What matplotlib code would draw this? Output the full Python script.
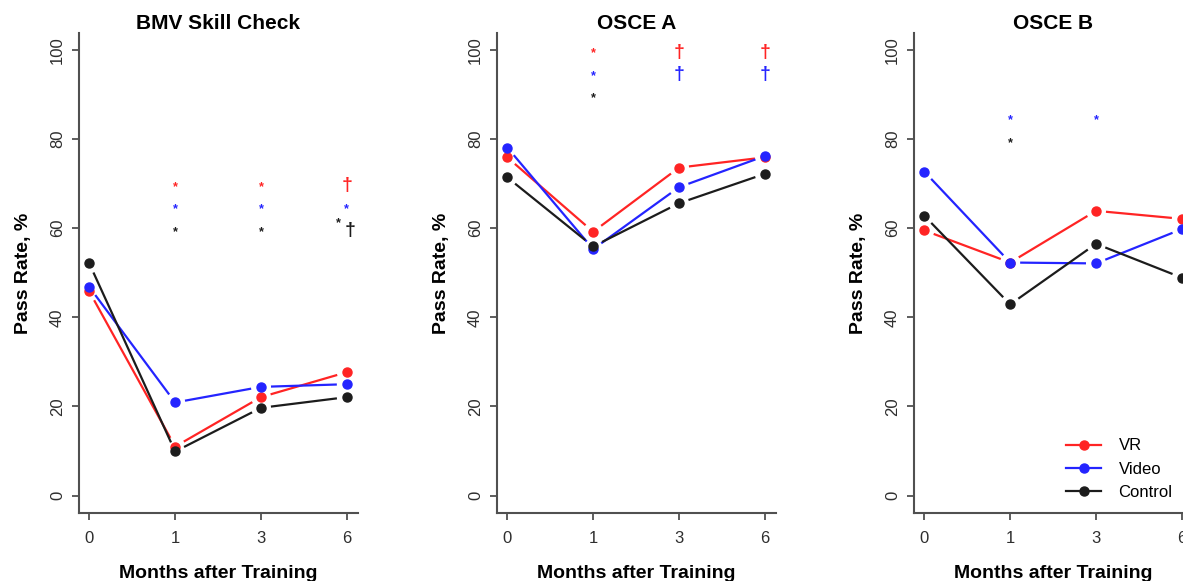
import matplotlib
matplotlib.use("Agg")

import numpy as np
import matplotlib.pyplot as plt
from matplotlib.lines import Line2D


MESES = ["0", "1", "3", "6"]
GRUPOS = ["VR", "Video", "Control"]
CORES = {"VR": "#ff2424", "Video": "#2424ff", "Control": "#1c1c1c"}

# BMV Skill Check
BMV_VR = [45.8, 11.0, 22.1, 27.7]
BMV_VIDEO = [46.8, 20.9, 24.4, 25.0]
BMV_CONTROL = [52.1, 9.9, 19.7, 22.1]

# OSCE A
OSCE_A_VR = [75.9, 59.2, 73.6, 75.9]
OSCE_A_VIDEO = [78.1, 55.3, 69.2, 76.2]
OSCE_A_CONTROL = [71.4, 55.9, 65.6, 72.2]

# OSCE B
OSCE_B_VR = [59.5, 52.3, 63.9, 62.1]
OSCE_B_VIDEO = [72.7, 52.3, 52.1, 59.8]
OSCE_B_CONTROL = [62.8, 42.9, 56.5, 48.9]

# marcas de significancia: (indice do mes, altura, texto, grupo)
BMV_MARCAS = [
    (1, 69.5, "*", "VR"), (1, 64.5, "*", "Video"), (1, 59.5, "*", "Control"),
    (2, 69.5, "*", "VR"), (2, 64.5, "*", "Video"), (2, 59.5, "*", "Control"),
    (3, 69.5, "†", "VR"), (3, 64.5, "*", "Video"), (3, 59.5, "*†", "Control"),
]
OSCE_A_MARCAS = [
    (1, 99.5, "*", "VR"), (1, 94.5, "*", "Video"), (1, 89.5, "*", "Control"),
    (2, 99.5, "†", "VR"), (2, 94.5, "†", "Video"),
    (3, 99.5, "†", "VR"), (3, 94.5, "†", "Video"),
]
OSCE_B_MARCAS = [
    (1, 84.5, "*", "Video"), (1, 79.5, "*", "Control"),
    (2, 84.5, "*", "Video"),
]

PAINEIS = [
    ("BMV Skill Check", [BMV_VR, BMV_VIDEO, BMV_CONTROL], BMV_MARCAS, 79),
    ("OSCE A", [OSCE_A_VR, OSCE_A_VIDEO, OSCE_A_CONTROL], OSCE_A_MARCAS, 497),
    ("OSCE B", [OSCE_B_VR, OSCE_B_VIDEO, OSCE_B_CONTROL], OSCE_B_MARCAS, 914),
]

LARGURA, ALTURA = 1183, 581
FONTE = ["Liberation Sans", "DejaVu Sans"]
GAP = 10  # pixels de folga entre linha e ponto (tipo "b" do R)


def desenhar_serie(ax, valores, cor):
    xs = np.arange(len(valores))
    pts = ax.transData.transform(np.column_stack([xs, valores]))
    inv = ax.transData.inverted()
    for a, b in zip(pts[:-1], pts[1:]):
        d = b - a
        dist = np.hypot(d[0], d[1])
        if dist <= 2 * GAP:
            continue
        u = d / dist
        seg = inv.transform(np.array([a + u * GAP, b - u * GAP]))
        ax.plot(seg[:, 0], seg[:, 1], color=cor, lw=1.6,
                solid_capstyle="butt", zorder=2)
    ax.plot(xs, valores, "o", color=cor, ms=6.5, ls="none", zorder=3)


def desenhar_marcas(ax, marcas):
    for i, y, texto, grupo in marcas:
        cor = CORES[grupo]
        if "*" in texto:
            dx, dy = (-6.3, 5.0) if "†" in texto else (0, -1)
            ax.annotate("*", (i, y), xytext=(dx, dy), textcoords="offset points",
                        ha="center", va="center", fontsize=9, fontweight="bold",
                        color=cor, family=FONTE)
        if "†" in texto:
            dx = 2.4 if "*" in texto else 0
            ax.annotate("†", (i, y), xytext=(dx, 0), textcoords="offset points",
                        ha="center", va="center", fontsize=14, fontweight="bold",
                        color=cor, family=FONTE)


def gerar_grafico():
    plt.rcParams["font.family"] = FONTE
    fig = plt.figure(figsize=(LARGURA / 100, ALTURA / 100), dpi=100)

    for titulo, series, marcas, esquerda in PAINEIS:
        ax = fig.add_axes([esquerda / LARGURA, 68 / ALTURA, 279 / LARGURA, 480 / ALTURA])
        ax.set_xlim(-0.12, 3.13)
        ax.set_ylim(-3.9, 103.8)

        for valores, grupo in zip(series, GRUPOS):
            desenhar_serie(ax, valores, CORES[grupo])
        desenhar_marcas(ax, marcas)

        ax.set_xticks(range(len(MESES)))
        ax.set_xticklabels(MESES)
        ax.set_yticks([0, 20, 40, 60, 80, 100])
        for lab in ax.get_yticklabels():
            lab.set_rotation(90)
            lab.set_va("center")

        for lado in ["top", "right"]:
            ax.spines[lado].set_visible(False)
        for lado in ["left", "bottom"]:
            ax.spines[lado].set_color("#505050")
            ax.spines[lado].set_linewidth(1.5)
        ax.tick_params(direction="out", length=5, width=1.3, color="#505050",
                       labelcolor="#2e2e2e", labelsize=12)
        ax.tick_params(axis="x", pad=8)
        ax.tick_params(axis="y", pad=5)

        ax.set_title(titulo, fontsize=15, fontweight="bold", pad=3)
        ax.set_xlabel("Months after Training", fontsize=14, fontweight="bold", labelpad=14)
        ax.set_ylabel("Pass Rate, %", fontsize=14, fontweight="bold", labelpad=13)

        if titulo == "OSCE B":
            alcas = [Line2D([], [], color=CORES[g], marker="o", ms=6.5, lw=1.6) for g in GRUPOS]
            ax.legend(alcas, GRUPOS, loc="lower left", frameon=False, fontsize=12,
                      bbox_to_anchor=(1066 / LARGURA, 81 / ALTURA),
                      bbox_transform=fig.transFigure, borderpad=0, borderaxespad=0,
                      handlelength=2.1, handletextpad=1.05, labelspacing=0.5)

    fig.savefig("out.png", dpi=100)
    plt.close(fig)


if __name__ == "__main__":
    gerar_grafico()
